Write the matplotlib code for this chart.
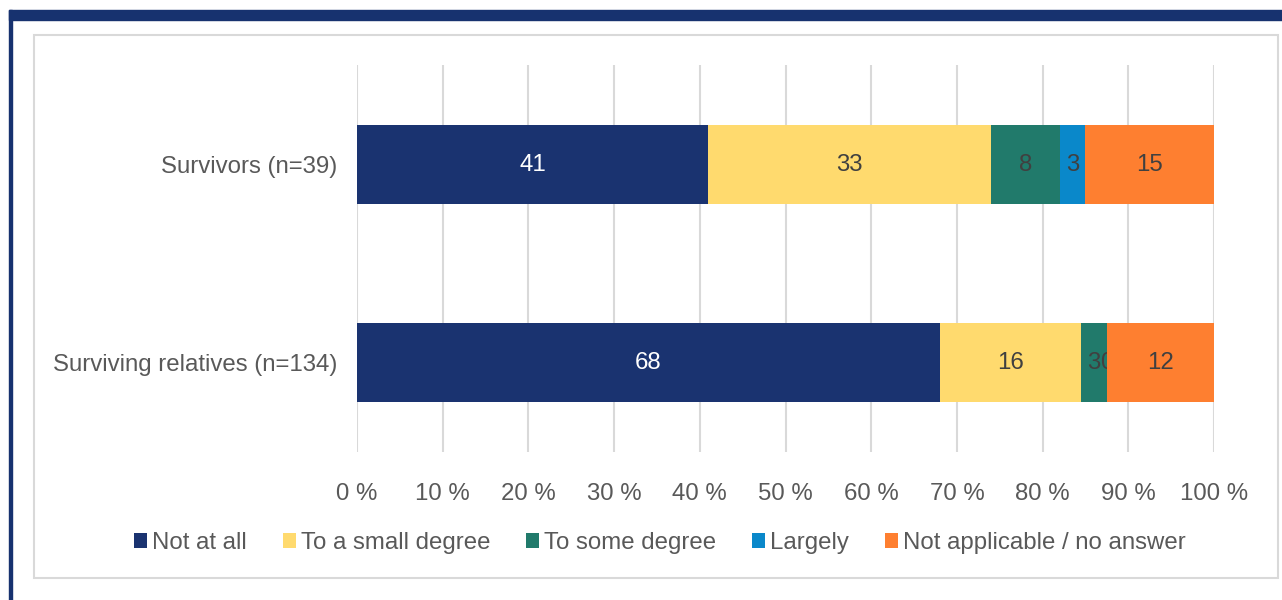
import matplotlib.pyplot as plt
from matplotlib.patches import Rectangle

groups = ["Surviving relatives (n=134)", "Survivors (n=39)"]
answers = ["Not at all", "To a small degree", "To some degree", "Largely",
           "Not applicable / no answer"]
# percent per answer, rows follow groups
relatives = [68.0, 16.5, 3.0, 0.0, 12.5]
survivors = [41.0, 33.0, 8.0, 3.0, 15.0]
colors = ["#1A3370", "#FFDA6E", "#217A6B", "#0A88CA", "#FE7F30"]
label_colors = ["white", "#404040", "#404040", "#404040", "#404040"]
ticks = list(range(0, 101, 10))

plt.rcParams['font.family'] = ['Liberation Sans', 'DejaVu Sans']
fs = 17.3
grey = "#595959"

fig = plt.figure(figsize=(12.82, 6.0), dpi=100)

# frame decoration
fig.patches.append(Rectangle((9 / 1282, 1 - 20 / 600), 1, 10 / 600,
                             transform=fig.transFigure, color="#17326F", zorder=-2))
fig.patches.append(Rectangle((9 / 1282, 0), 2.5 / 1282, 1 - 10 / 600,
                             transform=fig.transFigure, color="#17326F", zorder=-2))
fig.patches.append(Rectangle((34 / 1282, 1 - 578 / 600), (1278 - 34) / 1282, (578 - 35) / 600,
                             transform=fig.transFigure, facecolor="white",
                             edgecolor="#D9D9D9", lw=1.5, zorder=-2))

ax = fig.add_axes([357 / 1282, 1 - 452 / 600, (1214 - 357) / 1282, (452 - 65) / 600])
ax.patch.set_alpha(0)

rows = [relatives, survivors]
for j, name in enumerate(answers):
    vals = [r[j] for r in rows]
    lefts = [sum(r[:j]) for r in rows]
    bars = ax.barh(range(len(groups)), vals, left=lefts, height=0.4,
                   color=colors[j], label=name, zorder=3)
    ax.bar_label(bars, labels=[f"{v:.0f}" for v in vals], label_type='center',
                 color=label_colors[j], fontsize=fs)

ax.set_xlim(0, 100)
ax.set_ylim(-0.452, 1.503)
ax.set_xticks(ticks)
ax.set_xticklabels([f"{t} %" for t in ticks], fontsize=fs, color=grey)
ax.set_yticks(range(len(groups)))
ax.set_yticklabels(groups, fontsize=fs, color=grey)
ax.tick_params(axis='both', length=0)
ax.tick_params(axis='x', pad=22)
ax.tick_params(axis='y', pad=14)
ax.grid(axis='x', color="#D9D9D9", lw=1.5, zorder=0)
for s in ax.spines.values():
    s.set_visible(False)

fig.legend(loc='center', bbox_to_anchor=(660 / 1282, 1 - 543 / 600), ncol=5,
           frameon=False, fontsize=fs, labelcolor=grey, handlelength=0.54,
           handleheight=0.54, handletextpad=0.2, columnspacing=1.5)

fig.savefig("out.png", dpi=100)
